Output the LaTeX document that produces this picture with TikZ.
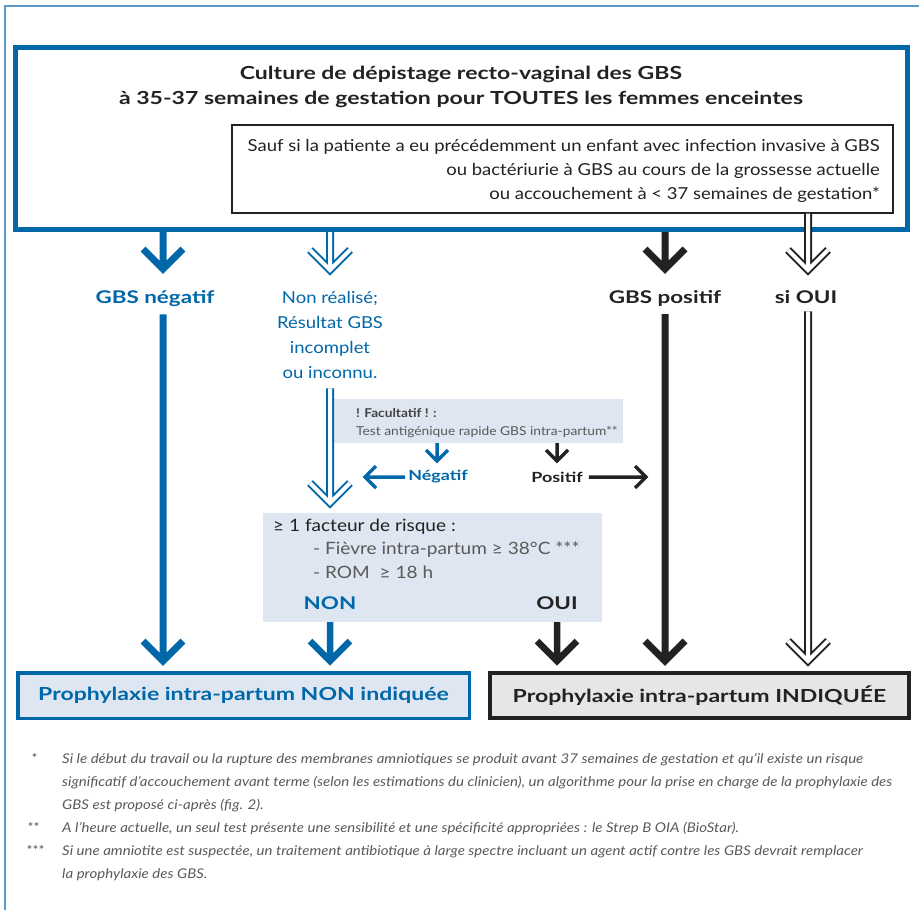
\documentclass[tikz,border=0pt]{standalone}
\usepackage{fontspec}
\setmainfont{Lato}[FakeStretch=1.12]
\newfontfamily\wideb{Lato}[FakeStretch=1.28]
\usetikzlibrary{arrows.meta,calc}
\definecolor{gbsblue}{HTML}{0067A9}
\definecolor{lightfill}{HTML}{DEE6F1}
\definecolor{grayfill}{HTML}{E6E6E6}
\definecolor{framecol}{HTML}{5A9BCB}
\definecolor{ink}{HTML}{222222}
\definecolor{graytext}{HTML}{5A5A5A}
\newcommand\fsz[2]{\fontsize{#1}{#2}\selectfont}
\tikzset{
  chev/.style={to path={-- (\tikztotarget) ++(-#1,-#1) -- (\tikztotarget) -- ++(#1,-#1)}},
  chevleft/.style={to path={-- (\tikztotarget) ++(#1,-#1) -- (\tikztotarget) -- ++(#1,#1)}},
  chevright/.style={to path={-- (\tikztotarget) ++(-#1,-#1) -- (\tikztotarget) -- ++(-#1,#1)}},
  solidblue/.style={draw=gbsblue, line width=7, line join=miter},
  solidblack/.style={draw=ink, line width=7, line join=miter},
  hollowblue/.style={draw=gbsblue, double=white, double distance=4, line width=2, line join=miter},
  hollowblack/.style={draw=ink, double=white, double distance=4, line width=2, line join=miter},
  lab/.style={anchor=base, inner sep=0},
  fillbox/.style={fill=lightfill, inner sep=0},
  hbold/.style={font=\wideb\bfseries\fsz{#1}{22}},
}
\begin{document}
\begin{tikzpicture}[x=1pt,y=-1pt]
\useasboundingbox (0,0) rectangle (919,910);
\fill[white] (0,0) rectangle (919,910);
% outer frame
\draw[framecol, line width=1.8] (5,910) -- (5,6) -- (919,6);

% top box
\node[draw=gbsblue, line width=5, minimum width=892, minimum height=182, inner sep=0] (top) at (461.5,138.5) {};
\node[lab, hbold=18, text=ink] (title1) at (461,79) {Culture de dépistage recto-vaginal des GBS};
\node[lab, hbold=18, text=ink] (title2) at (461,104) {à 35-37 semaines de gestation pour TOUTES les femmes enceintes};
\node[draw=ink, line width=1.2, minimum width=661, minimum height=88, inner sep=0] (cond) at (562.5,169) {};
\node[lab, anchor=base east, font=\fsz{16.5}{20}, text=ink] (cond1) at (880,151) {Sauf si la patiente a eu précédemment un enfant avec infection invasive à GBS};
\node[lab, anchor=base east, font=\fsz{16.5}{20}, text=ink] (cond2) at (880,175) {ou bactériurie à GBS au cours de la grossesse actuelle};
\node[lab, anchor=base east, font=\fsz{16.5}{20}, text=ink] (cond3) at (880,199) {ou accouchement à < 37 semaines de gestation*};

% labels under top box
\node[lab, hbold=17.5, text=gbsblue] (lab1) at (155,303) {GBS négatif};
\node[lab, font=\fsz{16.5}{22}, text=gbsblue] (lab2a) at (330,303) {Non réalisé;};
\node[lab, font=\fsz{16.5}{22}, text=gbsblue] (lab2b) at (330,328) {Résultat GBS};
\node[lab, font=\fsz{16.5}{22}, text=gbsblue] (lab2c) at (330,353) {incomplet};
\node[lab, font=\fsz{16.5}{22}, text=gbsblue] (lab2) at (330,378) {ou inconnu.};
\node[lab, hbold=17.5, text=ink] (lab3) at (665,303) {GBS positif};
\node[lab, hbold=17.5, text=ink] (lab4) at (806,303) {si OUI};

% facultatif box
\node[fillbox, minimum width=289, minimum height=44] (fac) at (478.5,421) {};
\node[lab, anchor=base west, font=\bfseries\fsz{12.2}{16}, text=ink!85] (fac1) at (356,417) {! Facultatif ! :};
\node[lab, anchor=base west, font=\fsz{12.3}{16}, text=graytext] (fac2) at (356,435) {Test antigénique rapide GBS intra-partum**};
\node[hbold=14, text=gbsblue, inner sep=0] (neg) at (438,477) {Négatif};
\node[hbold=14, text=ink, inner sep=0] (pos) at (557,477) {Positif};

% risk box
\node[fillbox, minimum width=339, minimum height=109] (risk) at (432.5,567.5) {};
\node[lab, anchor=base west, font=\fsz{17}{20}, text=ink] (risk1) at (273,531) {≥ 1 facteur de risque :};
\node[lab, anchor=base west, font=\fsz{17}{20}, text=graytext] (risk2) at (313,554) {- Fièvre intra-partum ≥ 38°C ***};
\node[lab, anchor=base west, font=\fsz{17}{20}, text=graytext] (risk3) at (313,578) {- ROM \ ≥ 18 h};
\node[hbold=17.5, text=gbsblue, inner sep=0] (non) at (330,603) {NON};
\node[hbold=17.5, text=ink, inner sep=0] (oui) at (557,603) {OUI};

% bottom boxes
\node[draw=gbsblue, fill=lightfill, line width=3.5, minimum width=451.5, minimum height=45.5, inner sep=0,
      hbold=18, text=gbsblue] (nonind) at (243.5,695.5) {Prophylaxie intra-partum NON indiquée};
\node[draw=ink, fill=grayfill, line width=4, minimum width=419, minimum height=45, inner sep=0,
      hbold=18, text=ink] (ind) at (699.5,695.5) {Prophylaxie intra-partum INDIQUÉE};

% tips
\coordinate (t1) at (163,269);
\coordinate (t2) at (330,270);
\coordinate (t3) at (665,269);
\coordinate (t4) at (808,270);
\coordinate (m2) at (330,503);
\coordinate (b1) at (163,661);
\coordinate (b3) at (665,661);
\coordinate (b4) at (808,661);
\coordinate (bn) at (330,661);
\coordinate (bo) at (557,661);
\coordinate (sn) at (437,461);
\coordinate (sp) at (557,461);
\coordinate (hl) at (365,477);
\coordinate (hr) at (646,477);

% top arrows
\draw[solidblue] (top.south -| t1) to[chev=20] (t1);
\draw[hollowblue] (top.south -| t2) to[chev=20] (t2);
\draw[solidblack] (top.south -| t3) to[chev=20] (t3);
\draw[hollowblack] (cond.south -| t4) to[chev=20] (t4);

% long arrows
\draw[solidblue] (lab1.south -| b1) ++(0,8) to[chev=20] (b1);
\draw[solidblack] (lab3.south -| b3) ++(0,8) to[chev=20] (b3);
\draw[hollowblack] (lab4.south -| b4) ++(0,8) to[chev=20] (b4);
\draw[hollowblue] (lab2.south -| m2) ++(0,10) to[chev=20] (m2);

% small arrows
\draw[draw=gbsblue, line width=3.5, line join=miter] (fac.south -| sn) to[chev=11] (sn);
\draw[draw=ink, line width=3.5, line join=miter] (fac.south -| sp) to[chev=11] (sp);
\draw[draw=gbsblue, line width=3.5, line join=miter] (neg.west) ++(-3,0) to[chevleft=11] (hl);
\draw[draw=ink, line width=3.5, line join=miter] (pos.east) ++(6,0) to[chevright=11] (hr);

% risk arrows
\draw[draw=gbsblue, line width=6.5, line join=miter] (risk.south -| bn) to[chev=20] (bn);
\draw[draw=ink, line width=6.5, line join=miter] (risk.south -| bo) to[chev=20] (bo);

% footnotes
\begin{scope}[every node/.style={lab, anchor=base west, font=\itshape\fsz{13.4}{16}, text=graytext}]
\node (s1) at (31,763) {*};
\node (f1) at (62,763) {Si le début du travail ou la rupture des membranes amniotiques se produit avant 37 semaines de gestation et qu’il existe un risque};
\node (f1b) at (62,786) {significatif d’accouchement avant terme (selon les estimations du clinicien), un algorithme pour la prise en charge de la prophylaxie des};
\node (f1c) at (62,809) {GBS est proposé ci-après (fig. 2).};
\node (s2) at (27,832) {**};
\node (f2) at (62,832) {A l’heure actuelle, un seul test présente une sensibilité et une spécificité appropriées : le Strep B OIA (BioStar).};
\node (s3) at (26,855) {***};
\node (f3) at (62,855) {Si une amniotite est suspectée, un traitement antibiotique à large spectre incluant un agent actif contre les GBS devrait remplacer};
\node (f3b) at (62,878) {la prophylaxie des GBS.};
\end{scope}
\end{tikzpicture}
\end{document}
